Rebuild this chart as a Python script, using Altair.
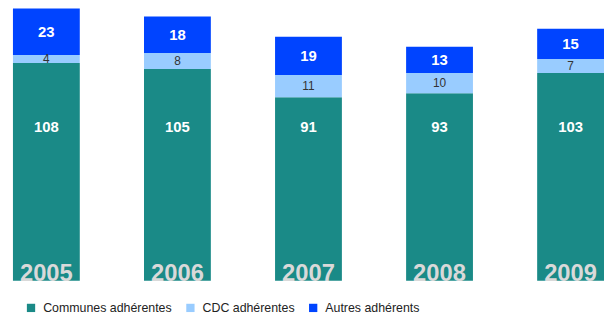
import altair as alt
import pandas as pd

years = ["2005", "2006", "2007", "2008", "2009"]
communes = [108, 105, 91, 93, 103]
cdc = [4, 8, 11, 10, 7]
autres = [23, 18, 19, 13, 15]
series = ["Communes adhérentes", "CDC adhérentes", "Autres adhérents"]
colors = ["#1a8a87", "#99ccff", "#0044ff"]

rows = []
for i, y in enumerate(years):
    base = 0
    for k, (s, v) in enumerate(zip(series, [communes[i], cdc[i], autres[i]])):
        rows.append({"year": y, "series": s, "value": v, "order": k,
                     "y0": base, "y1": base + v, "mid": base + v / 2})
        base += v
df = pd.DataFrame(rows)

FONT = "Liberation Sans"
xenc = alt.X("year:N", sort=years,
             scale=alt.Scale(paddingInner=0.49, paddingOuter=0),
             axis=None)
yscale = alt.Scale(domain=[0, 134.5], nice=False, zero=True)

bars = alt.Chart(df).mark_bar().encode(
    x=xenc,
    y=alt.Y("y0:Q", scale=yscale, axis=None),
    y2="y1:Q",
    color=alt.Color("series:N", sort=series,
                    scale=alt.Scale(domain=series, range=colors),
                    legend=alt.Legend(title=None, orient="none", direction="horizontal",
                                      legendX=12, legendY=295,
                                      symbolType="square", symbolSize=70,
                                      symbolStrokeWidth=0,
                                      labelFont=FONT, labelFontSize=12.5,
                                      labelColor="#222222",
                                      columnPadding=12, labelOffset=6)),
)

com_lab = alt.Chart(df[df["series"] == series[0]]).mark_text(
    font=FONT, fontSize=15, fontWeight="bold", color="white", baseline="middle"
).encode(x=xenc, y=alt.datum(76, scale=yscale), text="value:Q")

cdc_lab = alt.Chart(df[df["series"] == series[1]]).mark_text(
    font=FONT, fontSize=12, color="#333333", baseline="middle"
).encode(x=xenc, y=alt.Y("mid:Q", scale=yscale), text="value:Q")

aut_lab = alt.Chart(df[df["series"] == series[2]]).mark_text(
    font=FONT, fontSize=15, fontWeight="bold", color="white", baseline="middle"
).encode(x=xenc, y=alt.Y("mid:Q", scale=yscale), text="value:Q")

year_lab = alt.Chart(pd.DataFrame({"year": years})).mark_text(
    font=FONT, fontSize=24, fontWeight="bold", color="#d9d9d9", baseline="alphabetic", dy=0
).encode(x=xenc, y=alt.datum(0, scale=yscale), text="year:N")

chart = alt.layer(bars, com_lab, cdc_lab, aut_lab, year_lab).properties(
    width=597, height=274,
    autosize=alt.AutoSizeParams(type="none"),
    padding={"left": 5, "top": 0, "right": 0, "bottom": 35},
).configure_view(stroke=None)

chart.save("out.html", embed_options={"renderer": "svg", "actions": False})
